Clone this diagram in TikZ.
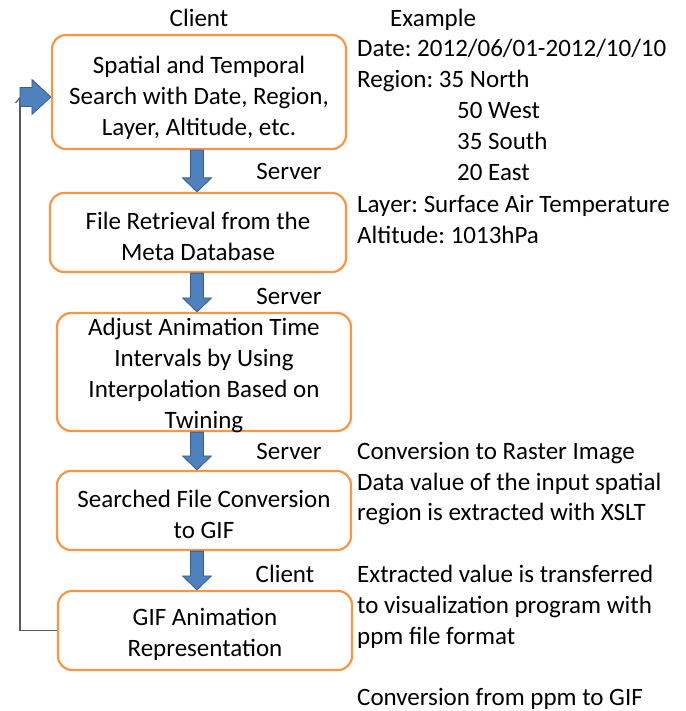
\documentclass[tikz,border=0pt]{standalone}
\usepackage{fontspec}
\setmainfont{Carlito}
\usetikzlibrary{arrows.meta,calc}
\definecolor{boxorange}{HTML}{F79646}
\definecolor{arrowblue}{HTML}{4F81BD}
\definecolor{arrowedge}{HTML}{385D8A}
\definecolor{linegray}{HTML}{595959}
\frenchspacing

% thick down-pointing block arrow from #1 to #2
\newcommand\blockdown[2]{%
  \path[blockarrow] let \p1=(#1), \p2=(#2) in
    (\x1-6.5pt,\y1) -- (\x1+6.5pt,\y1) -- (\x1+6.5pt,\y2+14pt)
    -- (\x1+14.5pt,\y2+14pt) -- (\x1,\y2) -- (\x1-14.5pt,\y2+14pt)
    -- (\x1-6.5pt,\y2+14pt) -- cycle;}
% thick right-pointing block arrow from #1 to #2
\newcommand\blockright[2]{%
  \path[blockarrow] let \p1=(#1), \p2=(#2) in
    (\x1,\y1+9.5pt) -- (\x2-19pt,\y1+9.5pt) -- (\x2-19pt,\y1+17.5pt)
    -- (\x2,\y1) -- (\x2-19pt,\y1-17.5pt) -- (\x2-19pt,\y1-9.5pt)
    -- (\x1,\y1-9.5pt) -- cycle;}

\begin{document}
\begin{tikzpicture}[x=1pt,y=-1pt,
  txt/.style={font=\fontsize{25}{31}\selectfont, inner sep=0pt},
  stepbox/.style={draw=boxorange, line width=2.2pt, fill=white,
    rounded corners=14pt, inner sep=0pt},
  boxtext/.style={txt, align=center},
  side/.style={txt, anchor=base west},
  role/.style={txt, anchor=base},
  blockarrow/.style={fill=arrowblue, draw=arrowedge, line width=0.8pt},
  feedback/.style={draw=linegray, line width=1.2pt,
    -{Straight Barb[length=5pt,width=9pt]}}]
\useasboundingbox (0,0) rectangle (685,711);

% process boxes
\node[stepbox, minimum width=294pt, minimum height=114pt] (b1) at (199,92) {};
\node[stepbox, minimum width=296pt, minimum height=79pt]  (b2) at (198,232.5) {};
\node[stepbox, minimum width=294pt, minimum height=118pt] (b3) at (204,372) {};
\node[stepbox, minimum width=294pt, minimum height=79pt]  (b4) at (204,510.5) {};
\node[stepbox, minimum width=294pt, minimum height=79pt]  (b5) at (205,630.5) {};

\node[boxtext] (t1) at (199,98) {Spatial and Temporal\\Search with Date, Region,\\Layer, Altitude, etc.};
\node[boxtext] (t2) at (198,236.5) {File Retrieval from the\\Meta Database};
\node[boxtext] (t3) at (204,375.5) {Adjust Animation Time\\Intervals by Using\\Interpolation Based on\\Twining};
\node[boxtext] (t4) at (204,514.5) {Searched File Conversion\\to GIF};
\node[boxtext] (t5) at (205,634.5) {GIF Animation\\Representation};

% arrow column
\coordinate (ax) at (197,0);
\blockdown{b1.south -| ax}{b2.north -| ax}
\blockdown{b2.south -| ax}{b3.north -| ax}
\blockdown{b3.south -| ax}{b4.north -| ax}
\blockdown{b4.south -| ax}{b5.north -| ax}

% loop back from the last step to the first
\coordinate (fb) at (20,97);
\draw[feedback] (b5.west) -| (fb);
\blockright{fb}{b1.west |- fb}

% client / server roles
\node[role] (r0) at (199,27) {Client};
\node[role] (r1) at (289,180) {Server};
\node[role] (r2) at (289,304) {Server};
\node[role] (r3) at (289,459) {Server};
\node[role] (r4) at (285,582) {Client};

% example parameters
\node[side] (e0) at (390,27)  {Example};
\node[side] (e1) at (357,57)  {Date: 2012/06/01-2012/10/10};
\node[side] (e2) at (357,88)  {Region: 35 North};
\node[side] (e3) at (457,119) {50 West};
\node[side] (e4) at (457,150) {35 South};
\node[side] (e5) at (457,181) {20 East};
\node[side] (e6) at (357,212) {Layer: Surface Air Temperature};
\node[side] (e7) at (357,243) {Altitude: 1013hPa};

% conversion notes
\node[side] (c1) at (357,459) {Conversion to Raster Image};
\node[side] (c2) at (357,490) {Data value of the input spatial};
\node[side] (c3) at (357,520) {region is extracted with XSLT};
\node[side] (c4) at (357,582) {Extracted value is transferred};
\node[side] (c5) at (357,613) {to visualization program with};
\node[side] (c6) at (357,644) {ppm file format};
\node[side] (c7) at (357,705) {Conversion from ppm to GIF};
\end{tikzpicture}
\end{document}
